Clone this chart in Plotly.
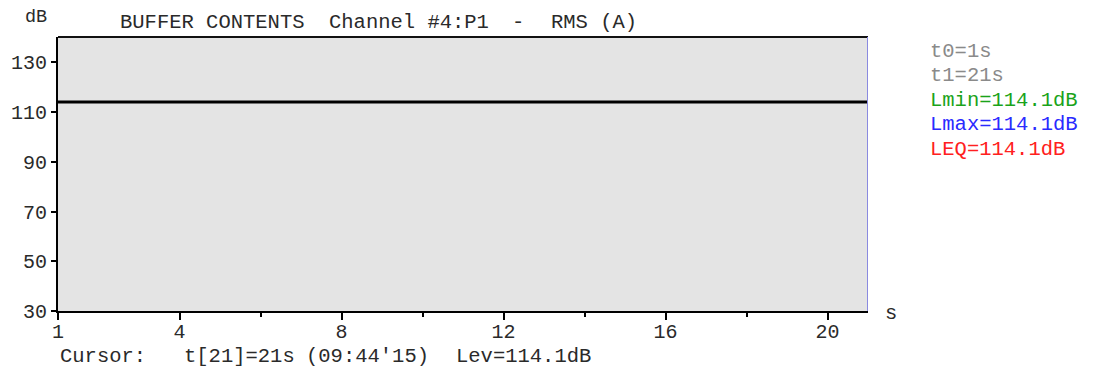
import plotly.graph_objects as go

# ---- data ----
time_s = [1, 2, 3, 4, 5, 6, 7, 8, 9, 10, 11, 12, 13, 14, 15, 16, 17, 18, 19, 20, 21]
level_db = [114.1, 114.1, 114.1, 114.1, 114.1, 114.1, 114.1, 114.1, 114.1, 114.1,
            114.1, 114.1, 114.1, 114.1, 114.1, 114.1, 114.1, 114.1, 114.1, 114.1, 114.1]
x_ticks = [1, 4, 8, 12, 16, 20]
x_minor = [6, 10, 14, 18]
y_ticks = [30, 50, 70, 90, 110, 130]
title_parts = ["BUFFER CONTENTS", "Channel #4:P1", "-", "RMS (A)"]
cursor_parts = ["Cursor:", "t[21]=21s", "(09:44'15)", "Lev=114.1dB"]
info_labels = ["t0=1s", "t1=21s", "Lmin=114.1dB", "Lmax=114.1dB", "LEQ=114.1dB"]
info_colors = ["#8a8a8a", "#8a8a8a", "#1aa31a", "#2a2aff", "#ff2020"]

OFF = 8  # page body margin
W, H = 1093 - OFF, 370 - OFF
# plot area in screenshot pixels: x 58..868, y 37..311
L, R, T, B = 58 - OFF, 1093 - 868, 37 - OFF, 370 - 311
PW = W - L - R
PH = H - T - B
FONT = "Liberation Mono, Courier New, monospace"
FS = 20.5


def px(x):  # screenshot px -> paper
    return (x - OFF - L) / PW


def py(y):
    return (H - B - (y - OFF)) / PH


fig = go.Figure()
fig.add_trace(go.Scatter(x=time_s, y=level_db, mode="lines",
                         line=dict(color="black", width=3), showlegend=False,
                         hoverinfo="skip"))

ann = []
for txt, xpix in zip(title_parts, [118, 327, 510, 549]):
    ann.append(dict(text=txt, x=px(xpix), y=py(22), xref="paper", yref="paper",
                    xanchor="left", yanchor="middle", showarrow=False,
                    font=dict(family=FONT, size=FS, color="#2a2a2a")))
for txt, xpix in zip(cursor_parts, [58, 182, 304, 454]):
    ann.append(dict(text=txt, x=px(xpix), y=py(356), xref="paper", yref="paper",
                    xanchor="left", yanchor="middle", showarrow=False,
                    font=dict(family=FONT, size=FS, color="#2a2a2a")))
ann.append(dict(text="dB", x=px(36), y=py(17), xref="paper", yref="paper",
                xanchor="center", yanchor="middle", showarrow=False,
                font=dict(family=FONT, size=FS - 2, color="#2a2a2a")))
ann.append(dict(text="s", x=px(891), y=py(313), xref="paper", yref="paper",
                xanchor="center", yanchor="middle", showarrow=False,
                font=dict(family=FONT, size=FS, color="#2a2a2a")))
for i, (txt, col) in enumerate(zip(info_labels, info_colors)):
    ann.append(dict(text=txt, x=px(928), y=py(51.5 + i * 24.4), xref="paper", yref="paper",
                    xanchor="left", yanchor="middle", showarrow=False,
                    font=dict(family=FONT, size=FS, color=col)))

shapes = [
    dict(type="line", xref="paper", yref="paper", x0=0, x1=1, y0=1, y1=1,
         line=dict(color="#111111", width=2)),
    dict(type="line", xref="x", yref="paper", x0=time_s[-1], x1=time_s[-1], y0=0, y1=1,
         line=dict(color="#8a8ae0", width=2)),
]

fig.update_layout(
    width=W, height=H,
    margin=dict(l=L, r=R, t=T, b=B, pad=0, autoexpand=False),
    paper_bgcolor="white", plot_bgcolor="#e4e4e4",
    annotations=ann, shapes=shapes,
    font=dict(family=FONT, size=FS, color="#2a2a2a"),
    xaxis=dict(range=[1, 21], tickmode="array", tickvals=x_ticks,
               ticktext=[str(v) for v in x_ticks], automargin=False,
               showgrid=False, zeroline=False, showline=True, linecolor="black",
               linewidth=2, ticks="outside", ticklen=7, tickwidth=2, tickcolor="black",
               ticklabelstandoff=-6,
               minor=dict(tickmode="array", tickvals=x_minor, ticks="outside",
                          ticklen=4, tickwidth=2, tickcolor="black", showgrid=False),
               tickfont=dict(family=FONT, size=FS - 0.5, color="#2a2a2a")),
    yaxis=dict(range=[30, 140.2], tickmode="array", tickvals=y_ticks, automargin=False,
               showgrid=False, zeroline=False, showline=True, linecolor="black",
               linewidth=2, ticks="outside", ticklen=5, tickwidth=2, tickcolor="black",
               tickfont=dict(family=FONT, size=FS - 0.5, color="#2a2a2a")),
)

fig.write_html("out.html")
